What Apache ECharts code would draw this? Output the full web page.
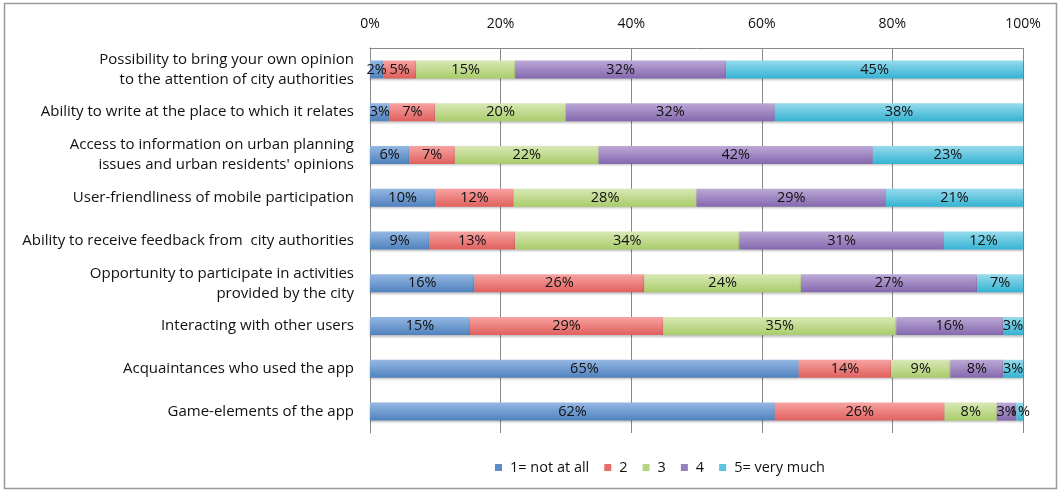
<!DOCTYPE html>
<html>
<head>
<meta charset="utf-8">
<script src="https://cdn.jsdelivr.net/npm/echarts@6/dist/echarts.min.js"></script>
<style>
html,body{margin:0;padding:0;background:#fff;}
#c{width:1060px;height:492px;}
</style>
</head>
<body>
<div id="c"></div>
<script>
const categories = [
  "Possibility to bring your own opinion\nto the attention of city authorities",
  "Ability to write at the place to which it relates",
  "Access to information on urban planning\nissues and urban residents' opinions",
  "User-friendliness of mobile participation",
  "Ability to receive feedback from  city authorities",
  "Opportunity to participate in activities\nprovided by the city",
  "Interacting with other users",
  "Acquaintances who used the app",
  "Game-elements of the app"
];
const seriesNames = ["1= not at all", "2", "3", "4", "5= very much"];
const s1 = [2, 3, 6, 10, 9, 16, 15, 65, 62];
const s2 = [5, 7, 7, 12, 13, 26, 29, 14, 26];
const s3 = [15, 20, 22, 28, 34, 24, 35, 9, 8];
const s4 = [32, 32, 42, 29, 31, 27, 16, 8, 3];
const s5 = [45, 38, 23, 21, 12, 7, 3, 3, 1];
const tickLabels = ["0%", "20%", "40%", "60%", "80%", "100%"];

const all = [s1, s2, s3, s4, s5];
const totals = categories.map((_, i) => all.reduce((a, s) => a + s[i], 0));
const colors = [
  ["#95B8E3", "#4F81BD"],
  ["#F7A3A1", "#E0605E"],
  ["#D9E8B6", "#A9CC6A"],
  ["#BCA9D6", "#8468AE"],
  ["#97DBEC", "#35B3D3"]
];
const legendColors = ["#5B8CCB", "#E86E6C", "#B5D47F", "#9880C0", "#5CC4E0"];
const FONT = 'Open Sans';

const chart = echarts.init(document.getElementById('c'));
const series = all.map((s, k) => ({
  name: seriesNames[k],
  type: 'bar',
  stack: 'total',
  barWidth: 18,
  data: s.map((v, i) => ({ value: v / totals[i] * 100, raw: v })),
  itemStyle: {
    color: new echarts.graphic.LinearGradient(0, 0, 0, 1, [
      { offset: 0, color: colors[k][0] },
      { offset: 1, color: colors[k][1] }
    ]),
    shadowColor: 'rgba(0,0,0,0.25)',
    shadowBlur: 2,
    shadowOffsetY: 1.5
  },
  label: {
    show: true,
    position: 'inside',
    formatter: p => p.data.raw + '%',
    color: '#111',
    fontFamily: FONT,
    fontSize: 14.5
  },
  emphasis: { disabled: true }
}));

chart.setOption({
  animation: false,
  color: legendColors,
  grid: { left: 370, right: 37, top: 48, bottom: 59, containLabel: false },
  xAxis: {
    type: 'value',
    position: 'top',
    min: 0, max: 100, interval: 20,
    axisLine: { show: true, lineStyle: { color: '#888', width: 1 } },
    axisTick: { show: false },
    splitLine: { show: true, lineStyle: { color: '#888', width: 1 } },
    axisLabel: {
      formatter: v => tickLabels[v / 20],
      color: '#111', fontFamily: FONT, fontSize: 14, margin: 17
    }
  },
  yAxis: {
    type: 'category',
    inverse: true,
    data: categories,
    axisLine: { show: true, lineStyle: { color: '#888', width: 1 } },
    axisTick: { show: false },
    axisLabel: {
      color: '#111', fontFamily: FONT, fontSize: 15, margin: 16,
      align: 'right', lineHeight: 20
    }
  },
  legend: {
    bottom: 12,
    left: 490,
    itemWidth: 7, itemHeight: 7, itemGap: 15,
    icon: 'rect',
    textStyle: { color: '#111', fontFamily: FONT, fontSize: 14.5, padding: [0, 0, 0, 3] },
    data: seriesNames.map((n, k) => ({ name: n, itemStyle: { color: legendColors[k] } }))
  },
  graphic: [{
    type: 'rect',
    shape: { x: 4.5, y: 3.5, width: 1052, height: 485 },
    style: { fill: 'none', stroke: '#999', lineWidth: 1.5 },
    silent: true
  }],
  series: series
});
</script>
</body>
</html>
